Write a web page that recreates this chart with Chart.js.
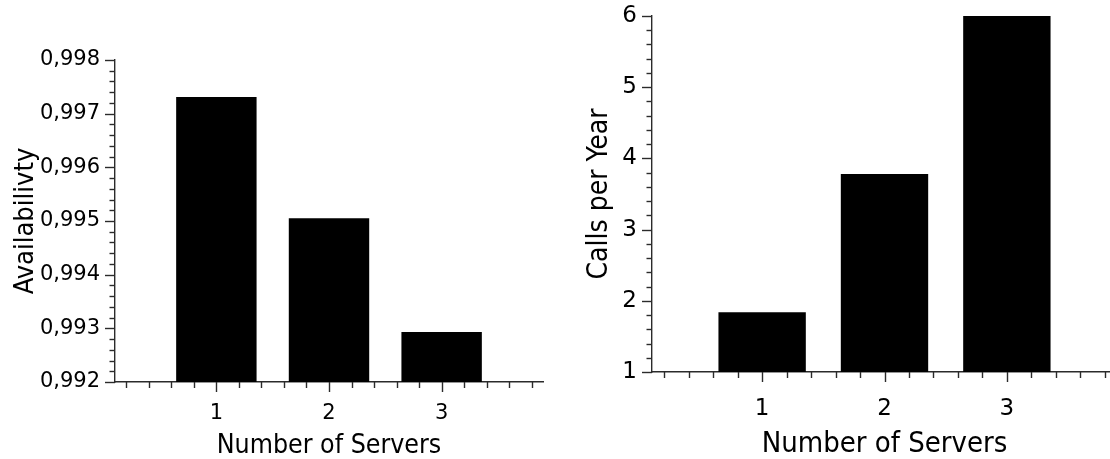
<!DOCTYPE html>
<html>
<head>
<meta charset="utf-8">
<script src="https://cdn.jsdelivr.net/npm/chart.js@4"></script>
<style>
  html, body { margin: 0; padding: 0; background: #fff; }
  body { width: 1110px; height: 459px; overflow: hidden; position: relative; }
  canvas { position: absolute; top: 0; }
  #availChart { left: 0; }
  #callsChart { left: 555px; }
</style>
</head>
<body>
<canvas id="availChart" width="555" height="459"></canvas>
<canvas id="callsChart" width="574" height="459"></canvas>
<script>
// Number of servers on the x axis of both panels
const servers = [1, 2, 3];
// Availability per server count
const availability = [0.99731, 0.99505, 0.99293];
// Maintenance calls per year per server count
const callsPerYear = [1.84, 3.78, 6.0];

// Major tick values on the value axes
const availabilityTicks = [0.992, 0.993, 0.994, 0.995, 0.996, 0.997, 0.998];
const callsTicks = [1, 2, 3, 4, 5, 6];

const AXIS_COLOR = '#2b2b2b';
const TICK_FONT = "'DejaVu Sans', sans-serif";
const TITLE_FONT = "'DejaVu Sans Condensed', 'DejaVu Sans', sans-serif";

// Draws outward tick marks: long ones on major values, short ones between.
const tickMarks = {
  id: 'tickMarks',
  afterDraw(chart, args, opts) {
    const { ctx, chartArea } = chart;
    ctx.save();
    ctx.strokeStyle = AXIS_COLOR;
    ctx.lineWidth = 1.4;
    const marks = (scale, step) => {
      const out = [];
      const k0 = Math.ceil(scale.min / step - 1e-6);
      const k1 = Math.floor(scale.max / step + 1e-6);
      for (let k = k0; k <= k1; k++) out.push(k);
      return out;
    };
    // x axis
    const xs = chart.scales.x;
    const xStep = opts.xMajor / opts.xMinor;
    marks(xs, xStep).forEach(k => {
      const major = k % opts.xMinor === 0;
      const px = Math.round(xs.getPixelForValue(k * xStep)) + 0.5;
      ctx.beginPath();
      ctx.moveTo(px, chartArea.bottom);
      ctx.lineTo(px, chartArea.bottom + (major ? 10 : 6));
      ctx.stroke();
    });
    // y axis
    const ys = chart.scales.y;
    const yStep = opts.yMajor / opts.yMinor;
    marks(ys, yStep).forEach(k => {
      const major = k % opts.yMinor === 0;
      const py = Math.round(ys.getPixelForValue(k * yStep)) + 0.5;
      ctx.beginPath();
      ctx.moveTo(chartArea.left, py);
      ctx.lineTo(chartArea.left - (major ? 10 : 5.5), py);
      ctx.stroke();
    });
    ctx.restore();
  }
};

function makeChart(id, cfg) {
  const values = cfg.values;
  return new Chart(document.getElementById(id), {
    type: 'bar',
    data: {
      datasets: [{
        data: servers.map((s, i) => ({ x: s, y: values[i] })),
        backgroundColor: '#000',
        borderWidth: 0,
        categoryPercentage: 1,
        barPercentage: 0.714
      }]
    },
    options: {
      responsive: false,
      animation: false,
      devicePixelRatio: 1,
      layout: { padding: cfg.padding, autoPadding: false },
      plugins: {
        legend: { display: false },
        tooltip: { enabled: false },
        tickMarks: { xMajor: 1, xMinor: 5, yMajor: cfg.yMajor, yMinor: 5 }
      },
      scales: {
        x: {
          type: 'linear',
          min: 0.1,
          max: 3.9,
          offset: false,
          grid: { display: false, drawTicks: false, offset: false },
          border: { display: true, color: AXIS_COLOR, width: 1.4 },
          afterBuildTicks: s => { s.ticks = servers.map(v => ({ value: v })); },
          afterFit: s => {
            s.height = cfg.xHeight;
            s.paddingLeft = 0;
            s.paddingRight = 0;
          },
          ticks: {
            autoSkip: false,
            maxRotation: 0,
            padding: cfg.xTickPad,
            color: '#000',
            font: { family: TICK_FONT, size: cfg.tickSize },
            callback: v => String(v)
          },
          title: {
            display: true,
            text: 'Number of Servers',
            color: '#000',
            padding: { top: 0, bottom: cfg.xTitlePad },
            font: { family: TITLE_FONT, size: cfg.xTitleSize, lineHeight: 1 }
          }
        },
        y: {
          type: 'linear',
          min: cfg.yTicks[0],
          max: cfg.yTicks[cfg.yTicks.length - 1],
          grid: { display: false, drawTicks: false },
          border: { display: true, color: AXIS_COLOR, width: 1.4 },
          afterBuildTicks: s => { s.ticks = cfg.yTicks.map(v => ({ value: v })); },
          afterFit: s => {
            s.width = cfg.yWidth;
            s.paddingTop = 0;
            s.paddingBottom = 0;
          },
          ticks: {
            autoSkip: false,
            padding: 15,
            color: '#000',
            font: { family: TICK_FONT, size: cfg.tickSize },
            callback: cfg.format
          },
          title: {
            display: true,
            text: cfg.yTitle,
            color: '#000',
            padding: { top: cfg.yTitlePad, bottom: 0 },
            font: { family: TITLE_FONT, size: cfg.yTitleSize, lineHeight: 1 }
          }
        }
      }
    },
    plugins: [tickMarks]
  });
}

makeChart('availChart', {
  values: availability,
  yTicks: availabilityTicks,
  yMajor: 0.001,
  yTitle: 'Availabilivty',
  format: v => v.toFixed(3).replace('.', ','),
  padding: { top: 60, right: 12, bottom: 0, left: 0 },
  yWidth: 115,
  xHeight: 77,
  xTickPad: 19,
  xTitlePad: 0,
  yTitlePad: 12,
  tickSize: 21,
  xTitleSize: 26.5,
  yTitleSize: 27
});

makeChart('callsChart', {
  values: callsPerYear,
  yTicks: callsTicks,
  yMajor: 1,
  yTitle: 'Calls per Year',
  format: v => String(v),
  padding: { top: 16, right: 12, bottom: 0, left: 0 },
  yWidth: 97,
  xHeight: 87,
  xTickPad: 23,
  xTitlePad: 0,
  yTitlePad: 31,
  tickSize: 23,
  xTitleSize: 29,
  yTitleSize: 28
});
</script>
</body>
</html>
